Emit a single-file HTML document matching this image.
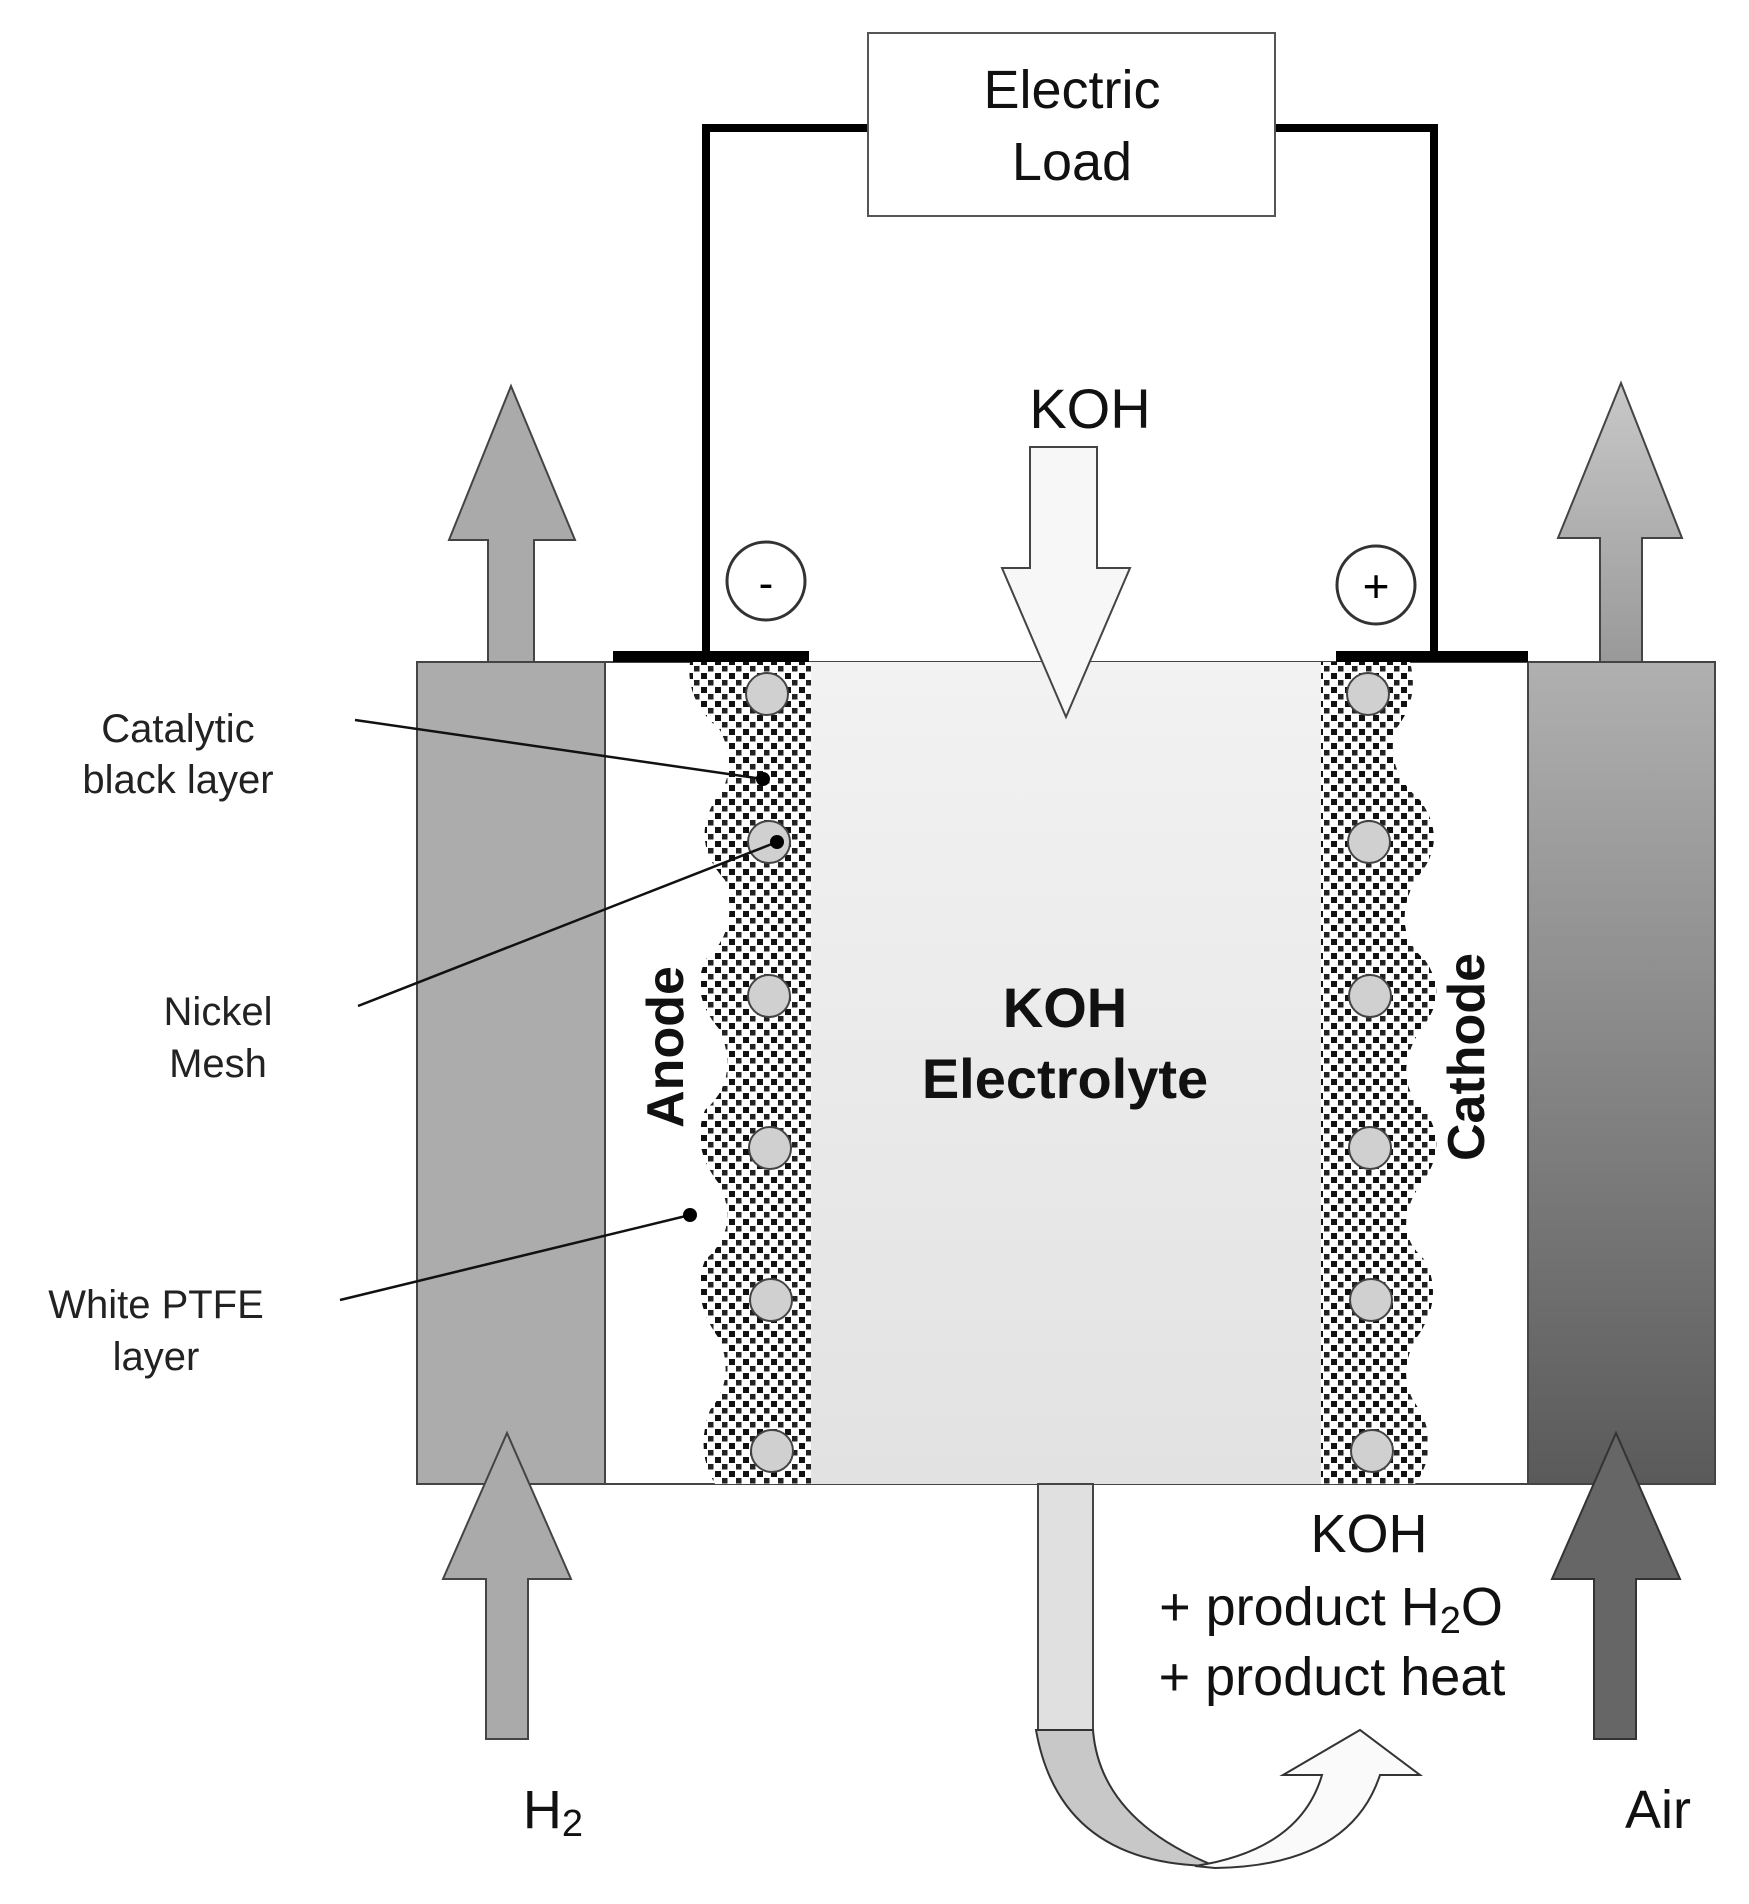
<!DOCTYPE html>
<html><head><meta charset="utf-8"><style>html,body{margin:0;padding:0;background:#fff}svg{display:block}</style></head><body>
<svg width="1749" height="1904" viewBox="0 0 1749 1904" xmlns="http://www.w3.org/2000/svg" font-family="Liberation Sans, Arial, sans-serif">
<defs>
<pattern id="dots" width="14" height="14" patternUnits="userSpaceOnUse"><rect width="14" height="14" fill="#fff"/><rect x="1" y="1" width="6" height="6" fill="#111"/><rect x="8" y="8" width="5.5" height="5.5" fill="#222"/></pattern>
<linearGradient id="el" x1="0" y1="0" x2="0" y2="1"><stop offset="0" stop-color="#f2f2f2"/><stop offset="1" stop-color="#e2e2e2"/></linearGradient>
<linearGradient id="rb" x1="0" y1="0" x2="0" y2="1"><stop offset="0" stop-color="#b0b0b0"/><stop offset="1" stop-color="#5a5a5a"/></linearGradient>
<linearGradient id="ra" x1="0" y1="0" x2="0" y2="1"><stop offset="0" stop-color="#c8c8c8"/><stop offset="1" stop-color="#999"/></linearGradient>
</defs>
<polyline points="706,656 706,128 868,128" fill="none" stroke="#000" stroke-width="8"/>
<polyline points="1275,128 1434,128 1434,656" fill="none" stroke="#000" stroke-width="8"/>
<rect x="868" y="33" width="407" height="183" fill="#fff" stroke="#555" stroke-width="2"/>
<text x="1072" y="108" font-size="54" text-anchor="middle" fill="#111">Electric</text>
<text x="1072" y="180" font-size="54" text-anchor="middle" fill="#111">Load</text>
<polygon points="511,386 575,540 534,540 534,662 488,662 488,540 449,540" fill="#aaa" stroke="#444" stroke-width="2"/>
<polygon points="1621,383 1682,538 1642,538 1642,662 1600,662 1600,538 1558,538" fill="url(#ra)" stroke="#444" stroke-width="2"/>
<rect x="417" y="662" width="188" height="822" fill="#acacac" stroke="#444" stroke-width="2"/>
<rect x="605" y="662" width="923" height="822" fill="#fff" stroke="#444" stroke-width="2"/>
<rect x="811" y="662" width="510" height="822" fill="url(#el)"/>
<rect x="1528" y="662" width="187" height="822" fill="url(#rb)" stroke="#444" stroke-width="2"/>
<path d="M811,662 L690,662 Q685,700 720,730 Q740,770 715,800 Q690,842 725,880 Q740,930 705,960 Q690,996 720,1030 Q740,1080 705,1110 Q690,1148 720,1185 Q740,1230 705,1260 Q690,1300 720,1340 Q735,1380 710,1410 Q695,1450 715,1484 L811,1484 Z" fill="url(#dots)"/>
<path d="M1321,662 L1410,662 Q1420,700 1395,730 Q1385,770 1420,800 Q1450,842 1415,880 Q1390,930 1425,960 Q1450,996 1420,1030 Q1390,1080 1425,1110 Q1450,1148 1420,1185 Q1390,1230 1425,1260 Q1445,1300 1415,1340 Q1395,1380 1420,1410 Q1440,1450 1415,1484 L1321,1484 Z" fill="url(#dots)"/>
<g fill="#d0d0d0" stroke="#444" stroke-width="2">
<circle cx="767" cy="694" r="21"/><circle cx="769" cy="842" r="21"/><circle cx="769" cy="996" r="21"/><circle cx="770" cy="1148" r="21"/><circle cx="771" cy="1300" r="21"/><circle cx="772" cy="1451" r="21"/>
<circle cx="1368" cy="694" r="21"/><circle cx="1369" cy="842" r="21"/><circle cx="1370" cy="996" r="21"/><circle cx="1370" cy="1148" r="21"/><circle cx="1371" cy="1300" r="21"/><circle cx="1372" cy="1451" r="21"/>
</g>
<rect x="613" y="651" width="196" height="11" fill="#000"/>
<rect x="1336" y="651" width="192" height="11" fill="#000"/>
<circle cx="766" cy="581" r="39" fill="#fff" stroke="#333" stroke-width="3"/>
<text x="766" y="598" font-size="44" text-anchor="middle">-</text>
<circle cx="1376" cy="585" r="39" fill="#fff" stroke="#333" stroke-width="3"/>
<text x="1376" y="602" font-size="46" text-anchor="middle">+</text>
<text x="1090" y="428" font-size="56" text-anchor="middle" fill="#111">KOH</text>
<polygon points="1030,447 1097,447 1097,568 1130,568 1066,717 1002,568 1030,568" fill="#f7f7f7" stroke="#444" stroke-width="2"/>
<text x="1065" y="1027" font-size="56" font-weight="bold" text-anchor="middle" fill="#111">KOH</text>
<text x="1065" y="1098" font-size="56" font-weight="bold" text-anchor="middle" fill="#111">Electrolyte</text>
<text transform="translate(683,1047) rotate(-90)" font-size="52" font-weight="bold" text-anchor="middle" fill="#111">Anode</text>
<text transform="translate(1484,1057) rotate(-90)" font-size="52" font-weight="bold" text-anchor="middle" fill="#111">Cathode</text>
<g font-size="40" fill="#222" text-anchor="middle">
<text x="178" y="742">Catalytic</text><text x="178" y="793">black layer</text>
<text x="218" y="1025">Nickel</text><text x="218" y="1077">Mesh</text>
<text x="156" y="1318">White PTFE</text><text x="156" y="1370">layer</text>
</g>
<g stroke="#111" stroke-width="2.5">
<line x1="355" y1="720" x2="763" y2="779"/><line x1="358" y1="1006" x2="777" y2="842"/><line x1="340" y1="1300" x2="690" y2="1215"/>
</g>
<circle cx="763" cy="779" r="7"/><circle cx="777" cy="842" r="7"/><circle cx="690" cy="1215" r="7"/>
<polygon points="507,1433 571,1579 528,1579 528,1739 486,1739 486,1579 443,1579" fill="#aaa" stroke="#444" stroke-width="2"/>
<polygon points="1616,1433 1680,1579 1636,1579 1636,1739 1594,1739 1594,1579 1552,1579" fill="#666" stroke="#333" stroke-width="2"/>
<rect x="1038" y="1484" width="55" height="246" fill="#e0e0e0" stroke="#444" stroke-width="2"/>
<path d="M1036,1730 L1093,1730 Q1100,1820 1215,1866 Q1060,1866 1036,1730 Z" fill="#c8c8c8" stroke="#333" stroke-width="2"/>
<path d="M1195,1866 Q1300,1850 1322,1775 L1283,1775 L1360,1730 L1420,1775 L1380,1775 Q1350,1866 1215,1868 Z" fill="#fafafa" stroke="#333" stroke-width="2"/>
<g font-size="54" fill="#111" text-anchor="middle">
<text x="1369" y="1552">KOH</text>
<text x="1331" y="1625">+ product  H<tspan font-size="38" dy="8">2</tspan><tspan dy="-8">O</tspan></text>
<text x="1332" y="1695">+ product heat</text>
<text x="553" y="1828">H<tspan font-size="38" dy="8">2</tspan></text>
<text x="1658" y="1828">Air</text>
</g>
</svg>
</body></html>
